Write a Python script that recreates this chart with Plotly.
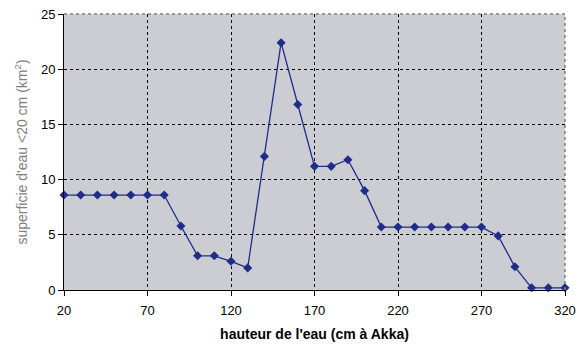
import plotly.graph_objects as go

heights = list(range(20, 330, 10))
surface = [8.6, 8.6, 8.6, 8.6, 8.6, 8.6, 8.6, 5.8, 3.1, 3.1, 2.6, 2.0,
           12.1, 22.4, 16.8, 11.2, 11.2, 11.8, 9.0, 5.7, 5.7, 5.7, 5.7, 5.7,
           5.7, 5.7, 4.9, 2.1, 0.2, 0.2, 0.2]
x_ticks = [20, 70, 120, 170, 220, 270, 320]
y_ticks = [0, 5, 10, 15, 20, 25]

fig = go.Figure()
fig.add_trace(go.Scatter(
    x=heights, y=surface, mode="lines+markers",
    line=dict(color="#1F2C8A", width=1.3),
    marker=dict(symbol="diamond", size=7, color="#1F2C8A"),
    cliponaxis=False,
))

fig.update_layout(
    width=577, height=338,
    margin=dict(l=56, r=20, t=6, b=56),
    paper_bgcolor="white", plot_bgcolor="#CCCDD2",
    font=dict(family="Liberation Sans, Arial, sans-serif", size=13, color="black"),
    showlegend=False,
)
fig.update_xaxes(
    range=[20, 320], tickvals=x_ticks, ticktext=[str(v) for v in x_ticks],
    showgrid=True, gridcolor="black", griddash="3px,3px", gridwidth=1,
    showline=True, linecolor="black", linewidth=1,
    ticks="outside", ticklen=5, tickcolor="black", ticklabelstandoff=3,
    zeroline=False, automargin=False, ticklabeloverflow="allow",
    title=dict(text="<b>hauteur de l'eau (cm à Akka)</b>", font=dict(size=14), standoff=12),
)
fig.update_yaxes(
    range=[0, 25], tickvals=y_ticks,
    showgrid=True, gridcolor="black", griddash="3px,3px", gridwidth=1,
    showline=True, linecolor="black", linewidth=1,
    ticks="outside", ticklen=5, tickcolor="black",
    zeroline=False, automargin=False, ticklabeloverflow="allow",
    title=dict(text="superficie d'eau <20 cm (km<sup>2</sup>)", font=dict(size=14, color="#808080"), standoff=10),
)
# gray dashed top and right border of the plot area
fig.add_shape(type="line", xref="paper", yref="paper", x0=0, x1=1, y0=1, y1=1,
              line=dict(color="#808080", width=1.5, dash="3px,3px"))
fig.add_shape(type="line", xref="paper", yref="paper", x0=1, x1=1, y0=0, y1=1,
              line=dict(color="#808080", width=1.5, dash="3px,3px"))

fig.write_html("out.html")
